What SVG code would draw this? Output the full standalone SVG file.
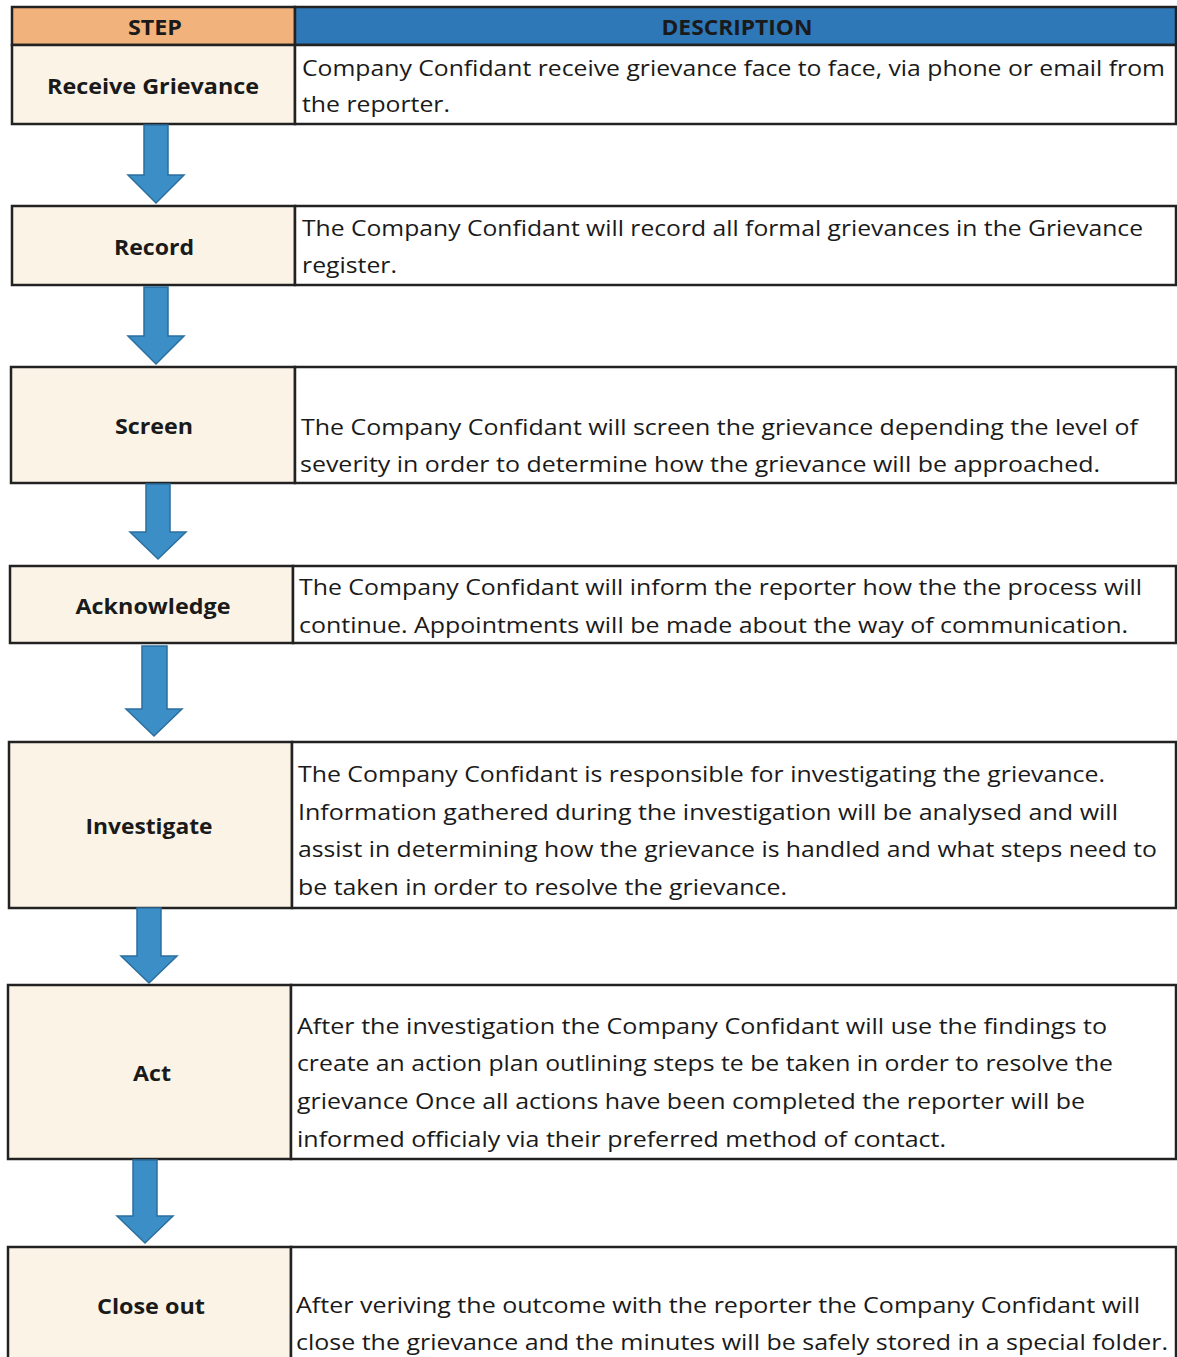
<svg xmlns="http://www.w3.org/2000/svg" width="1177" height="1357" viewBox="0 0 1177 1357">
<style>
.cell{stroke:#222;stroke-width:2.5}
.step{fill:#fbf4e6}
.desc{fill:#fff}
.lbl{font-family:"Open Sans","Liberation Sans",sans-serif;font-weight:bold;font-size:22px;fill:#1a1a1a;text-anchor:middle}
.txt{font-family:"Open Sans","Liberation Sans",sans-serif;font-size:22px;fill:#1a1a1a}
.hdr{font-family:"Open Sans","Liberation Sans",sans-serif;font-weight:bold;font-size:21px;fill:#1a1a1a;text-anchor:middle}
.arrow{fill:#3c8fc6;stroke:#2b6f9f;stroke-width:1.5}
</style>
<rect width="1177" height="1357" fill="#fff"/>
<g id="header">
<rect class="cell" x="12" y="7" width="283" height="38" fill="#f1b27b"/>
<rect class="cell" x="295" y="7" width="881" height="38" fill="#2e78b8"/>
<text class="hdr" x="155" y="35" textLength="54" lengthAdjust="spacingAndGlyphs">STEP</text>
<text class="hdr" x="737" y="35" textLength="151" lengthAdjust="spacingAndGlyphs">DESCRIPTION</text>
</g>
<g id="receive">
<rect class="cell step" x="12" y="45" width="283" height="79"/>
<rect class="cell desc" x="295" y="45" width="881" height="79"/>
<text class="lbl" x="153" y="94" textLength="212" lengthAdjust="spacingAndGlyphs">Receive Grievance</text>
<text class="txt" x="302" y="76" textLength="863" lengthAdjust="spacingAndGlyphs">Company Confidant receive grievance face to face, via phone or email from</text>
<text class="txt" x="302" y="112" textLength="148" lengthAdjust="spacingAndGlyphs">the reporter.</text>
</g>
<g id="record">
<rect class="cell step" x="12" y="206" width="283" height="79"/>
<rect class="cell desc" x="295" y="206" width="881" height="79"/>
<text class="lbl" x="154" y="255" textLength="80" lengthAdjust="spacingAndGlyphs">Record</text>
<text class="txt" x="302" y="236" textLength="841" lengthAdjust="spacingAndGlyphs">The Company Confidant will record all formal grievances in the Grievance</text>
<text class="txt" x="302" y="273" textLength="95" lengthAdjust="spacingAndGlyphs">register.</text>
</g>
<g id="screen">
<rect class="cell step" x="11" y="367" width="284" height="116"/>
<rect class="cell desc" x="295" y="367" width="881" height="116"/>
<text class="lbl" x="154" y="434" textLength="78" lengthAdjust="spacingAndGlyphs">Screen</text>
<text class="txt" x="301" y="435" textLength="837" lengthAdjust="spacingAndGlyphs">The Company Confidant will screen the grievance depending the level of</text>
<text class="txt" x="300" y="472" textLength="800" lengthAdjust="spacingAndGlyphs">severity in order to determine how the grievance will be approached.</text>
</g>
<g id="acknowledge">
<rect class="cell step" x="10" y="566" width="283" height="77"/>
<rect class="cell desc" x="293" y="566" width="883" height="77"/>
<text class="lbl" x="153" y="614" textLength="155" lengthAdjust="spacingAndGlyphs">Acknowledge</text>
<text class="txt" x="299" y="595" textLength="843" lengthAdjust="spacingAndGlyphs">The Company Confidant will inform the reporter how the the process will</text>
<text class="txt" x="299" y="633" textLength="829" lengthAdjust="spacingAndGlyphs">continue. Appointments will be made about the way of communication.</text>
</g>
<g id="investigate">
<rect class="cell step" x="9" y="742" width="283" height="166"/>
<rect class="cell desc" x="292" y="742" width="884" height="166"/>
<text class="lbl" x="149" y="834" textLength="127" lengthAdjust="spacingAndGlyphs">Investigate</text>
<text class="txt" x="298" y="782" textLength="807" lengthAdjust="spacingAndGlyphs">The Company Confidant is responsible for investigating the grievance.</text>
<text class="txt" x="298" y="820" textLength="820" lengthAdjust="spacingAndGlyphs">Information gathered during the investigation will be analysed and will</text>
<text class="txt" x="298" y="857" textLength="859" lengthAdjust="spacingAndGlyphs">assist in determining how the grievance is handled and what steps need to</text>
<text class="txt" x="298" y="895" textLength="489" lengthAdjust="spacingAndGlyphs">be taken in order to resolve the grievance.</text>
</g>
<g id="act">
<rect class="cell step" x="8" y="985" width="283" height="174"/>
<rect class="cell desc" x="291" y="985" width="885" height="174"/>
<text class="lbl" x="152" y="1081" textLength="38" lengthAdjust="spacingAndGlyphs">Act</text>
<text class="txt" x="297" y="1034" textLength="810" lengthAdjust="spacingAndGlyphs">After the investigation the Company Confidant will use the findings to</text>
<text class="txt" x="297" y="1071" textLength="816" lengthAdjust="spacingAndGlyphs">create an action plan outlining steps te be taken in order to resolve the</text>
<text class="txt" x="297" y="1109" textLength="788" lengthAdjust="spacingAndGlyphs">grievance Once all actions have been completed the reporter will be</text>
<text class="txt" x="297" y="1147" textLength="649" lengthAdjust="spacingAndGlyphs">informed officialy via their preferred method of contact.</text>
</g>
<g id="closeout">
<rect class="cell step" x="8" y="1247" width="283" height="120"/>
<rect class="cell desc" x="291" y="1247" width="885" height="120"/>
<text class="lbl" x="151" y="1314" textLength="108" lengthAdjust="spacingAndGlyphs">Close out</text>
<text class="txt" x="296" y="1313" textLength="844" lengthAdjust="spacingAndGlyphs">After veriving the outcome with the reporter the Company Confidant will</text>
<text class="txt" x="296" y="1350" textLength="872" lengthAdjust="spacingAndGlyphs">close the grievance and the minutes will be safely stored in a special folder.</text>
</g>
<g id="connectors">
<polygon class="arrow" points="144,125 168,125 168,175 184,175 156,203 128,175 144,175"/>
<polygon class="arrow" points="144,287 168,287 168,336 184,336 156,364 128,336 144,336"/>
<polygon class="arrow" points="146,484 170,484 170,532 186,532 158,559 130,532 146,532"/>
<polygon class="arrow" points="142,646 167,646 167,709 182,709 154,736 126,709 142,709"/>
<polygon class="arrow" points="137,908 161,908 161,956 177,956 149,983 121,956 137,956"/>
<polygon class="arrow" points="133,1160 157,1160 157,1216 173,1216 145,1243 117,1216 133,1216"/>
</g>
</svg>
